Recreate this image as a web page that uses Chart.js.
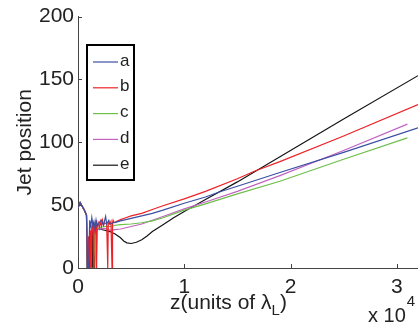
<!DOCTYPE html>
<html>
<head>
<meta charset="utf-8">
<script src="https://cdn.jsdelivr.net/npm/chart.js@4"></script>
<style>
  html, body { margin: 0; padding: 0; background: #fff; }
  #wrap { width: 418px; height: 329px; }
</style>
</head>
<body>
<div id="wrap"><canvas id="chart"></canvas></div>
<script>
// z in units of 1e4 lambda_L, jet position values
const zA = [0, 0.02, 0.04, 0.06, 0.08, 0.09, 0.1, 0.11, 0.12, 0.13, 0.14, 0.15, 0.16, 0.17, 0.18, 0.2, 0.22, 0.24, 0.26, 0.27, 0.29, 0.3, 0.33, 0.36, 0.4, 0.5, 0.6, 0.7, 0.8, 1.0, 1.2, 1.33, 1.5, 1.9, 2.5, 3.2];
const posA = [48, 52, 49, 46, 42, 0, 0, 38, 33, 40, 34, 37, 31, 38, 33, 36, 38, 34, 41, 35, 38, 35, 36, 36.5, 37.5, 39.5, 41.5, 43.5, 46, 51.5, 56.5, 60.5, 65, 76, 92, 111.5];

const zB = [0, 0.02, 0.04, 0.06, 0.08, 0.09, 0.1, 0.105, 0.115, 0.12, 0.13, 0.14, 0.145, 0.15, 0.16, 0.17, 0.175, 0.18, 0.19, 0.2, 0.21, 0.22, 0.23, 0.24, 0.25, 0.27, 0.28, 0.285, 0.3, 0.31, 0.32, 0.325, 0.33, 0.34, 0.36, 0.4, 0.45, 0.5, 0.6, 0.7, 0.8, 1.0, 1.2, 1.5, 1.66, 1.9, 2.5, 3.2];
const posB = [48, 52, 49, 46, 42, 0, 25, 0, 30, 0, 33, 35, 0, 36, 30, 38, 0, 33, 36, 32, 37, 33, 38, 34, 36, 35, 0, 36, 35, 37, 0, 36, 38, 36, 37, 38.5, 40, 41.5, 43.5, 46.5, 49.5, 55, 61, 71, 77, 84.6, 105, 130];

const zC = [0, 0.02, 0.04, 0.06, 0.08, 0.09, 0.15, 0.155, 0.17, 0.18, 0.2, 0.25, 0.3, 0.35, 0.4, 0.5, 0.6, 0.7, 0.8, 1.0, 1.2, 1.5, 1.9, 2.5, 3.1];
const posC = [48, 52, 49, 46, 42, 0, 0, 30, 0, 31, 32, 33, 33, 34, 34.5, 35, 36, 37.5, 40, 46, 51, 59, 69, 86.5, 103.5];

const zD = [0, 0.02, 0.04, 0.06, 0.08, 0.09, 0.12, 0.125, 0.14, 0.16, 0.2, 0.25, 0.3, 0.35, 0.4, 0.45, 0.5, 0.6, 0.7, 0.8, 1.0, 1.2, 1.5, 1.9, 2.5, 3.1];
const posD = [48, 52, 49, 46, 42, 0, 0, 28, 31, 29, 31, 31.5, 30, 30.5, 31, 32, 33, 35, 38, 41, 47, 52.5, 61, 73.5, 93.5, 114.5];

const zE = [0, 0.02, 0.04, 0.06, 0.08, 0.085, 0.1, 0.105, 0.11, 0.13, 0.135, 0.14, 0.155, 0.16, 0.17, 0.2, 0.25, 0.3, 0.35, 0.4, 0.43, 0.46, 0.5, 0.55, 0.6, 0.65, 0.7, 0.8, 0.9, 1.0, 1.2, 1.5, 2.0, 2.5, 3.2];
const posE = [48, 52, 49, 46, 42, 0, 0, 25, 0, 0, 30, 0, 0, 33, 30, 31, 30, 29, 27, 24, 21.5, 20, 19.5, 20.5, 22.5, 25.5, 29, 34.5, 40, 45, 54.5, 68.5, 93.5, 118.5, 153];

const seriesNames = ["a", "b", "c", "d", "e"];
const seriesColors = ["#3b4fa3", "#ec2227", "#6dbf4b", "#c263c2", "#151515"];
const xTicks = [0, 1, 2, 3];
const yTicks = [0, 50, 100, 150, 200];

const FONT = "'Liberation Sans', Arial, sans-serif";

function pts(zs, ys) {
  return zs.map(function (z, i) { return { x: z, y: ys[i] }; });
}

const allSeries = [pts(zA, posA), pts(zB, posB), pts(zC, posC), pts(zD, posD), pts(zE, posE)];

// inward ticks, axis titles, exponent and the boxed legend
const decorations = {
  id: "decorations",
  afterDraw: function (chart) {
    const ctx = chart.ctx;
    const xs = chart.scales.x;
    const ys = chart.scales.y;
    const area = chart.chartArea;
    ctx.save();
    ctx.strokeStyle = "#444";
    ctx.lineWidth = 1;
    yTicks.forEach(function (v) {
      const py = Math.round(ys.getPixelForValue(v)) + 0.5;
      ctx.beginPath();
      ctx.moveTo(area.left, py);
      ctx.lineTo(area.left + 4, py);
      ctx.stroke();
    });
    xTicks.forEach(function (v) {
      const px = Math.round(xs.getPixelForValue(v)) + 0.5;
      ctx.beginPath();
      ctx.moveTo(px, area.bottom);
      ctx.lineTo(px, area.bottom - 4);
      ctx.stroke();
    });

    ctx.fillStyle = "#222";
    // y title
    ctx.save();
    ctx.translate(25, (area.top + area.bottom) / 2);
    ctx.rotate(-Math.PI / 2);
    ctx.font = "21px " + FONT;
    ctx.textAlign = "center";
    ctx.textBaseline = "middle";
    ctx.fillText("Jet position", 0, 0);
    ctx.restore();

    // x title with subscript
    ctx.font = "21px " + FONT;
    ctx.textAlign = "left";
    ctx.textBaseline = "alphabetic";
    let tx = 170;
    const base = 309;
    const t1 = "z(units of \u03bb";
    ctx.fillText(t1, tx, base);
    tx += ctx.measureText(t1).width;
    ctx.font = "15px " + FONT;
    ctx.fillText("L", tx, base + 6);
    tx += ctx.measureText("L").width;
    ctx.font = "21px " + FONT;
    ctx.fillText(")", tx, base);

    // exponent
    ctx.font = "20px " + FONT;
    ctx.fillText("x 10", 368, 322);
    const ew = ctx.measureText("x 10").width;
    ctx.font = "15px " + FONT;
    ctx.fillText("4", 368 + ew + 1, 306);

    // legend
    const lx = 87, ly = 45, lw = 47, lh = 135;
    ctx.fillStyle = "#fff";
    ctx.fillRect(lx, ly, lw, lh);
    ctx.strokeStyle = "#000";
    ctx.lineWidth = 2;
    ctx.strokeRect(lx, ly, lw, lh);
    ctx.font = "17px " + FONT;
    ctx.textBaseline = "middle";
    seriesNames.forEach(function (name, i) {
      const yy = 62 + i * 25.8;
      ctx.strokeStyle = seriesColors[i];
      ctx.lineWidth = 1.2;
      ctx.beginPath();
      ctx.moveTo(93, yy);
      ctx.lineTo(118, yy);
      ctx.stroke();
      ctx.fillStyle = "#222";
      ctx.fillText(name, 120, yy - 1);
    });
    ctx.restore();
  }
};

new Chart(document.getElementById("chart"), {
  type: "line",
  data: {
    datasets: allSeries.map(function (d, i) {
      return {
        label: seriesNames[i],
        data: d,
        borderColor: seriesColors[i],
        borderWidth: 1.2,
        pointRadius: 0,
        tension: 0,
        fill: false
      };
    })
  },
  options: {
    responsive: true,
    maintainAspectRatio: false,
    animation: false,
    layout: { padding: { top: 15, right: 0, left: 0, bottom: 0 } },
    plugins: {
      legend: { display: false },
      tooltip: { enabled: false }
    },
    scales: {
      x: {
        type: "linear",
        min: 0,
        max: 3.2,
        afterBuildTicks: function (scale) {
          scale.ticks = xTicks.map(function (v) { return { value: v }; });
        },
        afterFit: function (scale) { scale.height = 61; },
        grid: { display: false, drawTicks: false },
        border: { display: true, color: "#444", width: 1 },
        ticks: {
          padding: 7,
          color: "#222",
          maxRotation: 0,
          font: { family: FONT, size: 21 }
        }
      },
      y: {
        type: "linear",
        min: 0,
        max: 200,
        afterBuildTicks: function (scale) {
          scale.ticks = yTicks.map(function (v) { return { value: v }; });
        },
        afterFit: function (scale) { scale.width = 78; },
        grid: { display: false, drawTicks: false },
        border: { display: true, color: "#444", width: 1 },
        ticks: {
          padding: 4,
          color: "#222",
          font: { family: FONT, size: 21 }
        }
      }
    }
  },
  plugins: [decorations]
});
</script>
</body>
</html>
